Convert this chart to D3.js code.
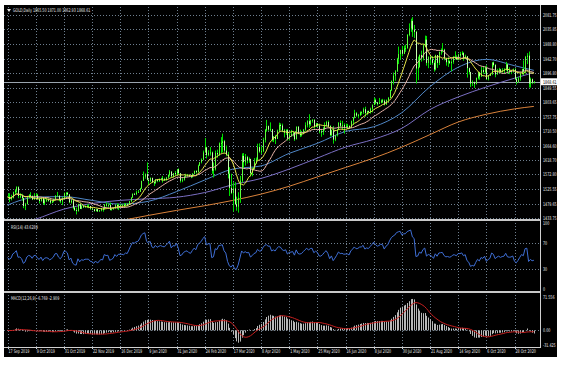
<!DOCTYPE html>
<html>
<head>
<meta charset="utf-8">
<script src="https://cdn.jsdelivr.net/npm/d3@7"></script>
<style>
html, body { margin: 0; padding: 0; background: #fff; }
svg { display: block; }
text { font-family: "DejaVu Sans", sans-serif; font-size: 5px; fill: #e6e6e6; }
</style>
</head>
<body>
<div id="chart"></div>
<script>
// GOLD daily, 17 Sep 2019 .. 12 Nov 2020 (one value per trading day)
const closes = [
  1501,1494,1498,1516,1522,1532,1504,1505,1497,1472,
  1478,1499,1506,1504,1493,1505,1506,1494,1488,1497,1481,1490,1492,1490,1483,1487,1492,1504,1505,1493,1487,1495,1513,
  1514,1509,1484,1490,1467,1459,1456,1478,1463,1471,1468,1472,1472,1472,1464,1462,1456,1462,1455,1458,1464,
  1462,1477,1474,1475,1460,1462,1465,1475,1470,1476,1476,1476,1475,1479,1478,1487,1499,1511,1510,1515,1517,
  1528,1552,1566,1574,1556,1552,1562,1548,1545,1557,1552,1557,1560,1558,1557,1563,1571,1582,1567,1577,1576,1589,
  1577,1553,1556,1566,1570,1572,1567,1565,1575,1584,1580,1601,1612,1620,1643,1659,1635,1642,1643,1585,
  1589,1641,1637,1672,1673,1679,1649,1636,1575,1530,1514,1528,1478,1470,1498,1553,1632,1612,1628,1617,1622,1577,
  1591,1613,1620,1660,1646,1647,1683,1714,1727,1716,1717,1683,1694,1686,1713,1731,1729,1713,1707,1714,1687,
  1700,1702,1706,1685,1725,1702,1698,1702,1716,1730,1743,1733,1745,1747,1725,1735,1729,1710,1709,1717,1730,
  1740,1727,1699,1714,1684,1698,1715,1737,1728,1730,1725,1726,1727,1722,1743,1754,1768,1761,1763,1771,1772,1781,
  1769,1775,1773,1783,1795,1810,1803,1798,1802,1809,1808,1796,1810,1817,1842,1871,1888,1902,1942,1957,1970,1958,1975,
  1976,2018,2039,2063,2035,2028,1911,1915,1954,1944,1985,2003,1929,1947,1940,1929,1908,1954,1929,1964,1968,
  1971,1943,1931,1934,1928,1932,1946,1946,1940,1956,1955,1960,1944,1950,1912,1900,1863,1868,1862,1881,1898,1886,
  1906,1900,1913,1877,1887,1894,1930,1922,1892,1902,1908,1900,1905,1907,1924,1904,1902,1903,1908,1878,1868,1879,
  1894,1909,1903,1948,1952,1863,1877,1865.5,1868.61
];
const highs = [
  1512,1513,1508,1518,1526,1535,1535,1513,1511,1499,
  1482,1503,1510,1516,1506,1513,1512,1511,1500,1499,1498,1495,1498,1496,1492,1490,1496,1507,1517,1506,1495,1501,1515,
  1516,1517,1510,1494,1493,1470,1467,1479,1480,1475,1474,1474,1476,1478,1472,1467,1463,1462,1463,1459,1466,
  1466,1478,1484,1481,1483,1465,1467,1476,1480,1479,1478,1478,1481,1481,1481,1488,1500,1512,1514,1521,1523,
  1530,1553,1582,1576,1611,1557,1563,1562,1550,1558,1558,1560,1562,1568,1562,1565,1573,1587,1583,1577,1584,1590,
  1592,1577,1561,1567,1575,1574,1572,1570,1577,1585,1586,1604,1612,1624,1649,1689,1661,1650,1660,1646,
  1611,1649,1652,1675,1692,1703,1683,1665,1645,1596,1575,1548,1548,1502,1516,1568,1640,1641,1638,1632,1627,1623,
  1595,1625,1627,1671,1672,1663,1690,1718,1747,1729,1739,1718,1695,1699,1716,1738,1736,1735,1718,1717,1718,
  1704,1715,1710,1709,1726,1727,1716,1710,1718,1739,1746,1765,1746,1749,1749,1737,1737,1735,1718,1724,1739,
  1744,1745,1730,1716,1727,1699,1717,1740,1745,1744,1736,1735,1734,1730,1745,1756,1779,1772,1766,1774,1774,1786,
  1789,1776,1777,1786,1796,1818,1815,1804,1817,1812,1814,1812,1812,1820,1843,1873,1898,1906,1945,1981,1971,1983,1984,
  1987,2021,2055,2070,2075,2050,2031,1949,1956,1968,1988,2016,2015,1950,1950,1951,1937,1955,1954,1965,1975,
  1992,1974,1944,1947,1937,1937,1951,1966,1953,1958,1964,1966,1963,1955,1950,1914,1900,1873,1869,1882,1900,1900,
  1917,1916,1918,1921,1889,1897,1931,1933,1925,1910,1913,1910,1912,1912,1932,1926,1915,1906,1911,1912,1882,1884,
  1897,1910,1937,1951,1960,1965,1882,1879,1871
];
const lows = [
  1496,1484,1490,1496,1508,1515,1497,1497,1489,1465,
  1459,1477,1497,1496,1491,1492,1499,1492,1480,1486,1477,1475,1485,1486,1479,1481,1484,1491,1501,1487,1481,1475,1494,
  1504,1506,1481,1480,1462,1456,1445,1454,1463,1462,1466,1466,1467,1465,1460,1459,1454,1455,1453,1454,1455,
  1454,1460,1470,1469,1458,1458,1460,1463,1462,1459,1470,1472,1472,1470,1471,1478,1485,1498,1508,1507,1515,
  1517,1527,1552,1559,1554,1540,1548,1546,1536,1543,1548,1549,1556,1547,1552,1553,1561,1566,1564,1563,1569,1570,
  1571,1547,1548,1553,1562,1565,1565,1561,1563,1573,1576,1579,1600,1608,1618,1643,1624,1631,1633,1575,
  1563,1585,1626,1632,1641,1643,1643,1631,1560,1504,1510,1454,1477,1457,1451,1482,1547,1591,1601,1608,1610,1566,
  1567,1590,1606,1617,1642,1638,1644,1675,1709,1712,1710,1678,1676,1670,1686,1708,1715,1708,1691,1699,1681,
  1681,1693,1694,1680,1685,1701,1692,1694,1702,1712,1723,1722,1728,1738,1719,1724,1724,1704,1693,1699,1713,
  1725,1723,1694,1696,1671,1679,1694,1714,1722,1717,1703,1721,1718,1718,1722,1731,1752,1757,1752,1759,1763,1766,
  1757,1762,1769,1767,1771,1794,1797,1793,1798,1800,1801,1793,1795,1803,1816,1839,1860,1872,1900,1925,1939,1950,1957,
  1964,1974,2014,2028,2012,2008,1863,1874,1914,1933,1937,1979,1920,1912,1923,1923,1901,1905,1913,1922,1955,
  1962,1937,1920,1916,1926,1902,1926,1940,1938,1937,1948,1954,1936,1941,1882,1892,1852,1855,1849,1860,1876,1875,
  1884,1894,1894,1874,1873,1887,1890,1917,1883,1892,1896,1896,1898,1895,1904,1894,1893,1893,1898,1876,1860,1866,
  1872,1892,1890,1895,1925,1850,1850,1861,1862.93
];
const firstOpen = 1499;

// long moving averages, one value every 16 bars (+ last bar)
const maIdx  = [0,16,32,48,64,80,96,112,128,144,160,176,192,208,224,240,256,272,288,299];
const ma50   = [1475,1500,1502,1490,1478,1487,1518,1555,1590,1600,1640,1672,1710,1725,1770,1853,1915,1940,1920,1905];
const ma100  = [1405,1430,1462,1480,1490,1495,1500,1515,1540,1560,1590,1625,1660,1685,1720,1780,1820,1852,1880,1898];
const ma200  = [1370,1385,1398,1410,1425,1442,1458,1473,1490,1510,1535,1565,1595,1625,1660,1700,1740,1765,1782,1790];

const dateLabels = ['17 Sep 2019','9 Oct 2019','31 Oct 2019','22 Nov 2019','16 Dec 2019','9 Jan 2020',
  '31 Jan 2020','24 Feb 2020','17 Mar 2020','8 Apr 2020','1 May 2020','25 May 2020','16 Jun 2020',
  '8 Jul 2020','30 Jul 2020','21 Aug 2020','14 Sep 2020','6 Oct 2020','28 Oct 2020'];
const priceTicks = ['2081.75','2035.85','1988.80','1942.70','1896.80','1849.55','1803.65','1757.75',
  '1710.50','1664.60','1618.70','1572.80','1525.55','1479.65','1433.75'];
const rsiTicks = ['100','70','30','0'];
const rsiLevels = [70, 30];
const macdTicks = ['71.556','0.00','-31.425'];

const lastPrice = 1868.61;
const mainTitle = 'GOLD,Daily  1865.50 1871.00 1862.93 1868.61';
const rsiTitle = 'RSI(14) 43.6289';
const macdTitle = 'MACD(12,26,9) -6.769 -2.909';

// indicators
function sma(src, n) {
    return src.map((d, i) => d3.mean(src.slice(Math.max(0, i - n + 1), i + 1)));
}
function ema(src, n) {
    const k = 2 / (n + 1);
    const out = [];
    src.forEach((v, i) => out.push(i === 0 ? v : v * k + out[i - 1] * (1 - k)));
    return out;
}
function rsi(src, n) {
    const ch = src.slice(1).map((v, i) => v - src[i]);
    let ag = d3.mean(ch.slice(0, n), c => Math.max(c, 0));
    let al = d3.mean(ch.slice(0, n), c => Math.max(-c, 0));
    const out = [100 - 100 / (1 + ag / al)];
    ch.forEach(c => {
        ag = (ag * (n - 1) + Math.max(c, 0)) / n;
        al = (al * (n - 1) + Math.max(-c, 0)) / n;
        out.push(100 - 100 / (1 + ag / al));
    });
    return out;
}

const opens = closes.map((c, i) => i === 0 ? firstOpen : closes[i - 1]);
const maFast = sma(closes, 10);
const maMid = sma(closes, 21);
const rsiVals = rsi(closes, 14);
const e12 = ema(closes, 12), e26 = ema(closes, 26);
const macdMain = closes.map((c, i) => e12[i] - e26[i]);
const macdSignal = sma(macdMain, 9);

// layout
const W = 568, H = 365;
const axisX = 540;
const squeezeX = 0.66;
const panels = {
    main: { top: 7, bottom: 219 },
    rsi: { top: 221, bottom: 291 },
    macd: { top: 294, bottom: 347 }
};

const svg = d3.select('#chart').append('svg')
    .attr('width', W)
    .attr('height', H);

svg.append('rect')
    .attr('x', 4).attr('y', 5)
    .attr('width', 553).attr('height', 352)
    .attr('fill', '#000');

const x = d3.scaleLinear().domain([0, 288]).range([7.5, 514.5]);
const yMain = d3.scaleLinear().domain([1433.75, 2081.75]).range([218, 15]);
const yRsi = d3.scaleLinear().domain([0, 100]).range([289, 223]);
const yMacd = d3.scaleLinear().domain([-31.425, 71.556]).range([345, 297]);
const px = v => Math.round(v) + 0.5;

// small condensed label, like the terminal's narrow font
function label(parent, tx, ty, str) {
    return parent.append('text')
        .attr('transform', `translate(${tx},${ty}) scale(${squeezeX},1)`)
        .text(str);
}

const defs = svg.append('defs');
Object.entries(panels).forEach(([k, p]) => {
    defs.append('clipPath').attr('id', 'clip-' + k)
        .append('rect')
        .attr('x', 4).attr('y', p.top)
        .attr('width', axisX - 4).attr('height', p.bottom - p.top);
});

const grid = svg.append('g')
    .attr('stroke', '#6f7f8f')
    .attr('stroke-width', 1)
    .attr('stroke-dasharray', '1,2');

// vertical grid
grid.selectAll('.vg')
    .data(dateLabels)
    .join('line')
    .attr('x1', (d, i) => px(x(i * 16)))
    .attr('x2', (d, i) => px(x(i * 16)))
    .attr('y1', panels.main.top)
    .attr('y2', panels.macd.bottom);

// horizontal grid
grid.selectAll('.hg')
    .data(priceTicks)
    .join('line')
    .attr('x1', 4).attr('x2', axisX)
    .attr('y1', d => px(yMain(+d)))
    .attr('y2', d => px(yMain(+d)));

grid.selectAll('.rg')
    .data(rsiLevels)
    .join('line')
    .attr('x1', 4).attr('x2', axisX)
    .attr('y1', d => px(yRsi(d)))
    .attr('y2', d => px(yRsi(d)));

grid.append('line')
    .attr('x1', 4).attr('x2', axisX)
    .attr('y1', px(yMacd(0))).attr('y2', px(yMacd(0)));

// main panel
const gMain = svg.append('g').attr('clip-path', 'url(#clip-main)');

gMain.append('line')
    .attr('x1', 4).attr('x2', axisX)
    .attr('y1', px(yMain(lastPrice))).attr('y2', px(yMain(lastPrice)))
    .attr('stroke', '#9aa4ae');

const sampleLine = d3.line()
    .x((d, i) => x(maIdx[i]))
    .y(d => yMain(d))
    .curve(d3.curveMonotoneX);

gMain.append('path').datum(ma200)
    .attr('d', sampleLine).attr('fill', 'none')
    .attr('stroke', '#d9823b').attr('stroke-width', 1);
gMain.append('path').datum(ma100)
    .attr('d', sampleLine).attr('fill', 'none')
    .attr('stroke', '#7b6fc4').attr('stroke-width', 1);
gMain.append('path').datum(ma50)
    .attr('d', sampleLine).attr('fill', 'none')
    .attr('stroke', '#4f86c6').attr('stroke-width', 1);

const barLine = d3.line()
    .x((d, i) => x(i))
    .y(d => yMain(d));

// candles
const candles = gMain.append('g');
candles.selectAll('.wick')
    .data(closes)
    .join('line')
    .attr('x1', (d, i) => px(x(i)))
    .attr('x2', (d, i) => px(x(i)))
    .attr('y1', (d, i) => yMain(highs[i]))
    .attr('y2', (d, i) => yMain(lows[i]))
    .attr('stroke', '#00e000')
    .attr('stroke-width', 1);
candles.selectAll('.body')
    .data(closes)
    .join('rect')
    .attr('x', (d, i) => Math.round(x(i)))
    .attr('y', (d, i) => yMain(Math.max(opens[i], d)))
    .attr('width', 1)
    .attr('height', (d, i) => Math.max(1, yMain(Math.min(opens[i], d)) - yMain(Math.max(opens[i], d))))
    .attr('fill', (d, i) => d >= opens[i] ? '#5cff3c' : '#c8ffb0');

gMain.append('path').datum(maMid)
    .attr('d', barLine).attr('fill', 'none')
    .attr('stroke', '#e8b4a8').attr('stroke-width', 1);
gMain.append('path').datum(maFast)
    .attr('d', barLine).attr('fill', 'none')
    .attr('stroke', '#e6e64a').attr('stroke-width', 1);

// RSI panel
svg.append('g').attr('clip-path', 'url(#clip-rsi)')
    .append('path').datum(rsiVals)
    .attr('d', d3.line().x((d, i) => x(i)).y(d => yRsi(d)))
    .attr('fill', 'none')
    .attr('stroke', '#3f6fd6')
    .attr('stroke-width', 1);

// MACD panel
const gMacd = svg.append('g').attr('clip-path', 'url(#clip-macd)');
gMacd.selectAll('.hist')
    .data(macdMain)
    .join('line')
    .attr('x1', (d, i) => px(x(i)))
    .attr('x2', (d, i) => px(x(i)))
    .attr('y1', yMacd(0))
    .attr('y2', d => yMacd(d))
    .attr('stroke', '#b8b8b8')
    .attr('stroke-width', 1);
gMacd.append('path').datum(macdSignal)
    .attr('d', d3.line().x((d, i) => x(i)).y(d => yMacd(d)))
    .attr('fill', 'none')
    .attr('stroke', '#c82020')
    .attr('stroke-width', 1);

// frame: separators and axis lines
const frame = svg.append('g').attr('fill', '#c8c8c8');
frame.append('rect').attr('x', 4).attr('y', panels.main.bottom).attr('width', axisX - 4).attr('height', 2);
frame.append('rect').attr('x', 4).attr('y', panels.rsi.bottom).attr('width', axisX - 4).attr('height', 2);
svg.append('line')
    .attr('x1', axisX + 0.5).attr('x2', axisX + 0.5)
    .attr('y1', 5).attr('y2', panels.macd.bottom)
    .attr('stroke', '#d0d0d0');
svg.append('line')
    .attr('x1', 4).attr('x2', axisX + 1)
    .attr('y1', panels.macd.bottom + 0.5).attr('y2', panels.macd.bottom + 0.5)
    .attr('stroke', '#d0d0d0');

// axis labels
const labels = svg.append('g');
priceTicks.forEach(d => label(labels, axisX + 3, yMain(+d) + 2, d));

labels.append('rect')
    .attr('x', axisX + 1).attr('y', yMain(lastPrice) - 3.5)
    .attr('width', 18).attr('height', 7)
    .attr('fill', '#fff');
label(labels, axisX + 3, yMain(lastPrice) + 2, lastPrice.toFixed(2)).style('fill', '#000');

rsiTicks.forEach(d => label(labels, axisX + 3, yRsi(+d) + 2, d));
macdTicks.forEach(d => label(labels, axisX + 3, yMacd(+d) + 2, d));
dateLabels.forEach((d, i) => label(labels, x(i * 16) + 1, 353, d));

svg.selectAll('.dt')
    .data(dateLabels)
    .join('line')
    .attr('x1', (d, i) => px(x(i * 16)))
    .attr('x2', (d, i) => px(x(i * 16)))
    .attr('y1', panels.macd.bottom)
    .attr('y2', panels.macd.bottom + 2)
    .attr('stroke', '#d0d0d0');

// panel titles
svg.append('path')
    .attr('d', 'M7,9 L11,9 L9,12 Z')
    .attr('fill', '#e6e6e6');
label(labels, 13, 12, mainTitle);
label(labels, 11, 229, rsiTitle);
label(labels, 11, 300, macdTitle);
</script>
</body>
</html>
